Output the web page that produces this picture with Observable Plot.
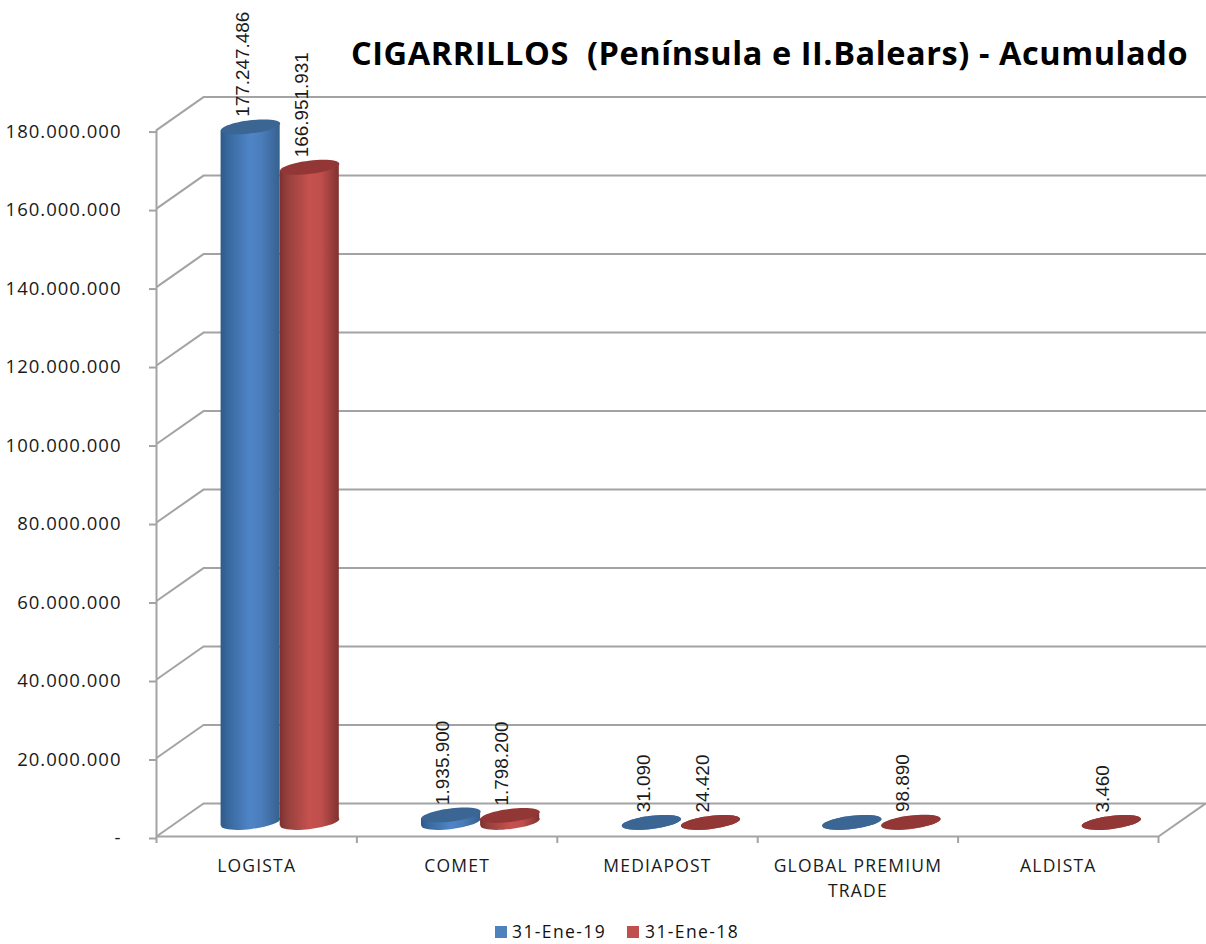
<!DOCTYPE html>
<html><head><meta charset="utf-8">
<script src="https://cdn.jsdelivr.net/npm/d3@7"></script>
<script src="https://cdn.jsdelivr.net/npm/@observablehq/plot@0.6"></script>
<style>
html,body{margin:0;padding:0;background:#fff}
#wrap{position:relative;width:1206px;height:944px;overflow:hidden;font-family:"Open Sans",sans-serif;color:#111}
#title{position:absolute;left:351px;top:31px;width:850px;white-space:pre;font-weight:700;font-size:32.5px;letter-spacing:.57px;line-height:44px;color:#000;margin:0}
#legend{position:absolute;top:922px;left:0;height:19px;font-size:17.5px;line-height:19px;letter-spacing:1.4px}
#legend span{position:absolute;white-space:nowrap}
#legend i{position:absolute;top:4px;width:12px;height:12px}
g[aria-label="y-axis tick label"] text{letter-spacing:1px}
g[aria-label="x-axis tick label"] text{letter-spacing:1.2px}
</style></head><body>
<div id="wrap">
<h1 id="title">CIGARRILLOS  (Península e II.Balears) - Acumulado</h1>
<div id="legend"></div>
</div>
<script>
const categories = ["LOGISTA","COMET","MEDIAPOST","GLOBAL PREMIUM\nTRADE","ALDISTA"];
const seriesNames = ["31-Ene-19","31-Ene-18"];
const values2019 = [177247486,1935900,31090,40000,null];
const values2018 = [166951931,1798200,24420,98890,3460];
const labels2019 = ["177.247.486","1.935.900","31.090",null,null];
const labels2018 = ["166.951.931","1.798.200","24.420","98.890","3.460"];
const yTicks = [0,20e6,40e6,60e6,80e6,100e6,120e6,140e6,160e6,180e6];

// depth of the pseudo-3D box, in scale units
const depthX = 0.2345, depthY = 8.4e6, baseY = 3.57e6, barW = 0.295, xMax = 5.2395, yMax = 188.3e6, tiltY = 0.92e6;
const axisColor = "#a3a3a3", ink = "#1a1a1a";
const fmt = v => v === 0 ? "-" : d3.format(",")(v).replace(/,/g,".");

const rows = [];
categories.forEach((c,i)=>{
  const mid = i + 0.5 + depthX/2;
  [[values2019,labels2019,0],[values2018,labels2018,1]].forEach(([vals,labs,s])=>{
    if (vals[i]==null) return;
    rows.push({id:c+s,cat:c,s,value:vals[i],label:labs[i],
      x1: mid + (s-1)*barW, x2: mid + s*barW, cx: mid + (s-0.5)*barW,
      y0: baseY, y1: baseY + vals[i]});
  });
});
const ofS = s => rows.filter(d=>d.s===s);
// the cylinder side: its two edges run between the ends of the tilted caps
const sides = s => ofS(s).flatMap(d=>[
  {id:d.id,x:d.x1,lo:d.y0-tiltY,hi:d.y1-tiltY},
  {id:d.id,x:d.x2,lo:d.y0+tiltY,hi:d.y1+tiltY}
]);

// tilted ellipse symbol for the cylinder caps (size comes from the dot radius)
const ellipse = {draw(ctx,size){
  const rx = Math.sqrt(size/Math.PI), ry = rx*0.22, a = -7*Math.PI/180, k = 0.5523;
  const P = (x,y)=>[x*Math.cos(a)-y*Math.sin(a), x*Math.sin(a)+y*Math.cos(a)];
  ctx.moveTo(...P(rx,0));
  ctx.bezierCurveTo(...P(rx,k*ry),...P(k*rx,ry),...P(0,ry));
  ctx.bezierCurveTo(...P(-k*rx,ry),...P(-rx,k*ry),...P(-rx,0));
  ctx.bezierCurveTo(...P(-rx,-k*ry),...P(-k*rx,-ry),...P(0,-ry));
  ctx.bezierCurveTo(...P(k*rx,-ry),...P(rx,-k*ry),...P(rx,0));
  ctx.closePath();
}};

const capR = 29.8;
const cylinder = s => {
  const body = s===0 ? "url(#cylBlue)" : "url(#cylRed)";
  const top = s===0 ? "#3b6694" : "#923735";
  return [
    Plot.dot(ofS(s),{x:"cx",y:"y0",r:capR,symbol:ellipse,fill:body,stroke:"none"}),
    Plot.areaY(sides(s),{x:"x",y1:"lo",y2:"hi",z:"id",fill:body}),
    Plot.dot(ofS(s),{x:"cx",y:"y1",r:capR,symbol:ellipse,fill:top,stroke:"none"})
  ];
};
const labelMark = s => Plot.text(ofS(s).filter(d=>d.label),{
  x:"cx",y:"y1",text:"label",rotate:-90,textAnchor:"start",dx:-8,dy:-10,
  fontSize:18.9,fill:ink,fontFamily:"Liberation Sans"});

const plot = Plot.plot({
  width:1206,height:944,marginLeft:156,marginRight:0,marginTop:97,marginBottom:108,
  style:{background:"transparent",fontFamily:"Open Sans",overflow:"visible"},
  x:{type:"linear",domain:[0,xMax],axis:null},
  y:{type:"linear",domain:[0,yMax],axis:null},
  marks:[
    Plot.ruleY(yTicks,{y:d=>d+depthY,x1:depthX,x2:xMax,stroke:axisColor,strokeWidth:2}),
    Plot.link(yTicks,{x1:0,x2:depthX,y1:d=>d,y2:d=>d+depthY,stroke:axisColor,strokeWidth:2}),
    Plot.link([0],{x1:5,x2:5+depthX,y1:0,y2:depthY,stroke:axisColor,strokeWidth:2}),
    Plot.ruleX([0],{y1:0,y2:180e6,stroke:axisColor,strokeWidth:2}),
    Plot.ruleY([0],{x1:0,x2:5,stroke:axisColor,strokeWidth:2}),
    Plot.axisY({ticks:yTicks,anchor:"left",tickSize:7,tickPadding:28,tickFormat:fmt,
      stroke:axisColor,strokeWidth:2,fontSize:18.5,fill:ink,label:null,dy:2}),
    Plot.axisX({ticks:[0,1,2,3,4,5],anchor:"bottom",tickSize:7,tickFormat:()=>"",stroke:axisColor,strokeWidth:2,label:null}),
    Plot.axisX({ticks:[0.5,1.5,2.5,3.5,4.5],anchor:"bottom",tickSize:0,tickPadding:18,
      tickFormat:d=>categories[d-0.5],fontSize:17.5,lineHeight:1.43,fill:ink,label:null,lineAnchor:"top"}),
    ...cylinder(0),
    ...cylinder(1),
    labelMark(0),
    labelMark(1)
  ]
});

const defs = d3.select(plot).insert("defs",":first-child");
[["cylBlue",[[0,"#2f5a88"],[0.12,"#38689d"],[0.5,"#4f85c8"],[0.7,"#4a7cb9"],[1,"#36618f"]]],
 ["cylRed",[[0,"#7d2f2d"],[0.12,"#93403d"],[0.5,"#c6514e"],[0.7,"#bf4f4c"],[1,"#803230"]]]]
.forEach(([id,stops])=>{
  const g = defs.append("linearGradient").attr("id",id).attr("x1",0).attr("x2",1).attr("y1",0).attr("y2",0);
  stops.forEach(([o,c])=>g.append("stop").attr("offset",o).attr("stop-color",c));
});
plot.style.position="absolute";plot.style.left="0";plot.style.top="0";
const wrap=document.getElementById("wrap");
wrap.insertBefore(plot,wrap.firstChild);

const leg=document.getElementById("legend");
[[495,512,"#4f81bd"],[627,645,"#c0504d"]].forEach(([sx,tx,c],i)=>{
  const sw=document.createElement("i");sw.style.left=sx+"px";sw.style.background=c;leg.appendChild(sw);
  const t=document.createElement("span");t.style.left=tx+"px";t.textContent=seriesNames[i];leg.appendChild(t);
});
</script>
</body></html>
